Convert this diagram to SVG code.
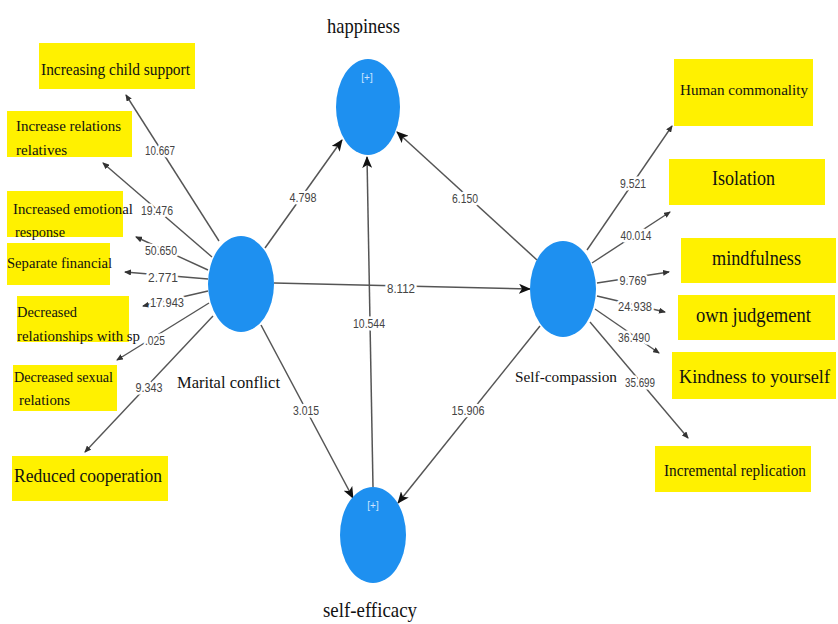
<svg xmlns="http://www.w3.org/2000/svg" width="838" height="624" viewBox="0 0 838 624">
<style>
.bg{fill:#fff}
.node{fill:#1e90f0}
.plus{fill:#cfe6ff;font-family:"Liberation Sans",sans-serif;font-size:10px;text-anchor:middle}
.nl{fill:#111;font-family:"Liberation Serif",serif}
.box{fill:#fff100}
.bt{fill:#111;font-family:"Liberation Serif",serif}
.ln{stroke:#555;stroke-width:1.4;fill:none}
.st{stroke:#555;stroke-width:1.5;fill:none}
.num{fill:#444;font-family:"Liberation Sans",sans-serif;font-size:12px;text-anchor:middle;stroke:#fff;stroke-width:5;stroke-linejoin:round;paint-order:stroke}
</style>
<defs>
<marker id="big" markerUnits="userSpaceOnUse" markerWidth="12" markerHeight="10" refX="11" refY="5" orient="auto">
<path d="M0,0 L12,5 L0,10 L3,5 z" fill="#111"/>
</marker>
<marker id="sm" markerUnits="userSpaceOnUse" markerWidth="7" markerHeight="6" refX="6" refY="3" orient="auto">
<path d="M0,0 L7,3 L0,6 z" fill="#333"/>
</marker>
</defs>
<rect class="bg" x="0" y="0" width="838" height="624"/>

<g id="connectors">
<line class="st" x1="265" y1="248" x2="342" y2="140" marker-end="url(#big)"/>
<line class="st" x1="537" y1="260" x2="397" y2="132" marker-end="url(#big)"/>
<line class="st" x1="373" y1="487" x2="367" y2="157" marker-end="url(#big)"/>
<line class="st" x1="274" y1="283" x2="530" y2="289" marker-end="url(#big)"/>
<line class="st" x1="261" y1="325" x2="353" y2="498" marker-end="url(#big)"/>
<line class="st" x1="540" y1="326" x2="398" y2="503" marker-end="url(#big)"/>

<line class="ln" x1="219" y1="241" x2="126" y2="95" marker-end="url(#sm)"/>
<line class="ln" x1="212" y1="257" x2="103" y2="163" marker-end="url(#sm)"/>
<line class="ln" x1="208" y1="270" x2="136" y2="237" marker-end="url(#sm)"/>
<line class="ln" x1="208" y1="279" x2="125" y2="272" marker-end="url(#sm)"/>
<line class="ln" x1="208" y1="291" x2="143" y2="306" marker-end="url(#sm)"/>
<line class="ln" x1="209" y1="303" x2="117" y2="360" marker-end="url(#sm)"/>
<line class="ln" x1="213" y1="316" x2="85" y2="452" marker-end="url(#sm)"/>

<line class="ln" x1="587" y1="250" x2="672" y2="126" marker-end="url(#sm)"/>
<line class="ln" x1="592" y1="263" x2="670" y2="212" marker-end="url(#sm)"/>
<line class="ln" x1="597" y1="283" x2="669" y2="272" marker-end="url(#sm)"/>
<line class="ln" x1="597" y1="296" x2="665" y2="312" marker-end="url(#sm)"/>
<line class="ln" x1="595" y1="309" x2="659" y2="353" marker-end="url(#sm)"/>
<line class="ln" x1="590" y1="322" x2="688" y2="438" marker-end="url(#sm)"/>

<text class="num" x="160" y="155" textLength="30" lengthAdjust="spacingAndGlyphs">10.667</text>
<text class="num" x="157" y="215" textLength="32" lengthAdjust="spacingAndGlyphs">19.476</text>
<text class="num" x="161" y="255" textLength="32" lengthAdjust="spacingAndGlyphs">50.650</text>
<text class="num" x="163" y="282" textLength="30" lengthAdjust="spacingAndGlyphs">2.771</text>
<text class="num" x="167" y="307" textLength="34" lengthAdjust="spacingAndGlyphs">17.943</text>
<text class="num" x="155" y="345" textLength="20" lengthAdjust="spacingAndGlyphs">.025</text>
<text class="num" x="149" y="392" textLength="27" lengthAdjust="spacingAndGlyphs">9.343</text>
<text class="num" x="303" y="202" textLength="27" lengthAdjust="spacingAndGlyphs">4.798</text>
<text class="num" x="465" y="203" textLength="26" lengthAdjust="spacingAndGlyphs">6.150</text>
<text class="num" x="401" y="293" textLength="28" lengthAdjust="spacingAndGlyphs">8.112</text>
<text class="num" x="369" y="328" textLength="32" lengthAdjust="spacingAndGlyphs">10.544</text>
<text class="num" x="306" y="415" textLength="26" lengthAdjust="spacingAndGlyphs">3.015</text>
<text class="num" x="468" y="415" textLength="33" lengthAdjust="spacingAndGlyphs">15.906</text>
<text class="num" x="633" y="188" textLength="26" lengthAdjust="spacingAndGlyphs">9.521</text>
<text class="num" x="636" y="240" textLength="31" lengthAdjust="spacingAndGlyphs">40.014</text>
<text class="num" x="633" y="285" textLength="27" lengthAdjust="spacingAndGlyphs">9.769</text>
<text class="num" x="635" y="311" textLength="34" lengthAdjust="spacingAndGlyphs">24.938</text>
<text class="num" x="634" y="342" textLength="32" lengthAdjust="spacingAndGlyphs">36.490</text>
<text class="num" x="640" y="387" textLength="30" lengthAdjust="spacingAndGlyphs">35.699</text>
</g>

<g id="happiness">
<ellipse class="node" cx="368" cy="107" rx="32" ry="48"/>
<text class="plus" x="367" y="81">[+]</text>
<text class="nl" x="327" y="33" font-size="21" textLength="73" lengthAdjust="spacingAndGlyphs">happiness</text>
</g>
<g id="marital-conflict">
<ellipse class="node" cx="241" cy="284" rx="33" ry="48"/>
<text class="nl" x="177" y="388" font-size="17" textLength="103" lengthAdjust="spacingAndGlyphs">Marital conflict</text>
</g>
<g id="self-compassion">
<ellipse class="node" cx="563" cy="289" rx="33" ry="48"/>
<text class="nl" x="515" y="382" font-size="15" textLength="102" lengthAdjust="spacingAndGlyphs">Self-compassion</text>
</g>
<g id="self-efficacy">
<ellipse class="node" cx="373" cy="535" rx="33" ry="48"/>
<text class="plus" x="373" y="509">[+]</text>
<text class="nl" x="323" y="617" font-size="22" textLength="94" lengthAdjust="spacingAndGlyphs">self-efficacy</text>
</g>

<g id="ind-child-support">
<rect class="box" x="39" y="43" width="156" height="46"/>
<text class="bt" x="41" y="75" font-size="17" textLength="149" lengthAdjust="spacingAndGlyphs">Increasing child support</text>
</g>
<g id="ind-relations-relatives">
<rect class="box" x="7" y="111" width="125" height="46"/>
<text class="bt" x="16" y="131" font-size="15" textLength="105" lengthAdjust="spacingAndGlyphs">Increase relations</text>
<text class="bt" x="16" y="155" font-size="15" textLength="51" lengthAdjust="spacingAndGlyphs">relatives</text>
</g>
<g id="ind-emotional-response">
<rect class="box" x="7" y="191" width="116" height="46"/>
<text class="bt" x="13" y="214" font-size="15" textLength="120" lengthAdjust="spacingAndGlyphs">Increased emotional</text>
<text class="bt" x="15" y="237" font-size="15" textLength="50" lengthAdjust="spacingAndGlyphs">response</text>
</g>
<g id="ind-separate-financial">
<rect class="box" x="7" y="243" width="103" height="42"/>
<text class="bt" x="7" y="268" font-size="15" textLength="105" lengthAdjust="spacingAndGlyphs">Separate financial</text>
</g>
<g id="ind-relationships-sp">
<rect class="box" x="17" y="296" width="112" height="46"/>
<text class="bt" x="17" y="317" font-size="15" textLength="60" lengthAdjust="spacingAndGlyphs">Decreased</text>
<text class="bt" x="17" y="341" font-size="15" textLength="123" lengthAdjust="spacingAndGlyphs">relationships with sp</text>
</g>
<g id="ind-sexual-relations">
<rect class="box" x="13" y="365" width="104" height="46"/>
<text class="bt" x="14" y="382" font-size="15" textLength="99" lengthAdjust="spacingAndGlyphs">Decreased sexual</text>
<text class="bt" x="19" y="405" font-size="15" textLength="51" lengthAdjust="spacingAndGlyphs">relations</text>
</g>
<g id="ind-reduced-cooperation">
<rect class="box" x="12" y="456" width="156" height="45"/>
<text class="bt" x="14" y="482" font-size="19" textLength="148" lengthAdjust="spacingAndGlyphs">Reduced cooperation</text>
</g>
<g id="ind-human-commonality">
<rect class="box" x="674" y="59" width="139" height="67"/>
<text class="bt" x="680" y="95" font-size="15" textLength="128" lengthAdjust="spacingAndGlyphs">Human commonality</text>
</g>
<g id="ind-isolation">
<rect class="box" x="669" y="159" width="156" height="46"/>
<text class="bt" x="712" y="185" font-size="20" textLength="63" lengthAdjust="spacingAndGlyphs">Isolation</text>
</g>
<g id="ind-mindfulness">
<rect class="box" x="681" y="238" width="155" height="45"/>
<text class="bt" x="712" y="265" font-size="20" textLength="89" lengthAdjust="spacingAndGlyphs">mindfulness</text>
</g>
<g id="ind-own-judgement">
<rect class="box" x="678" y="295" width="157" height="45"/>
<text class="bt" x="696" y="322" font-size="20" textLength="115" lengthAdjust="spacingAndGlyphs">own judgement</text>
</g>
<g id="ind-kindness">
<rect class="box" x="672" y="352" width="164" height="47"/>
<text class="bt" x="679" y="383" font-size="18" textLength="151" lengthAdjust="spacingAndGlyphs">Kindness to yourself</text>
</g>
<g id="ind-incremental-replication">
<rect class="box" x="655" y="446" width="156" height="46"/>
<text class="bt" x="664" y="476" font-size="16" textLength="142" lengthAdjust="spacingAndGlyphs">Incremental replication</text>
</g>
</svg>
